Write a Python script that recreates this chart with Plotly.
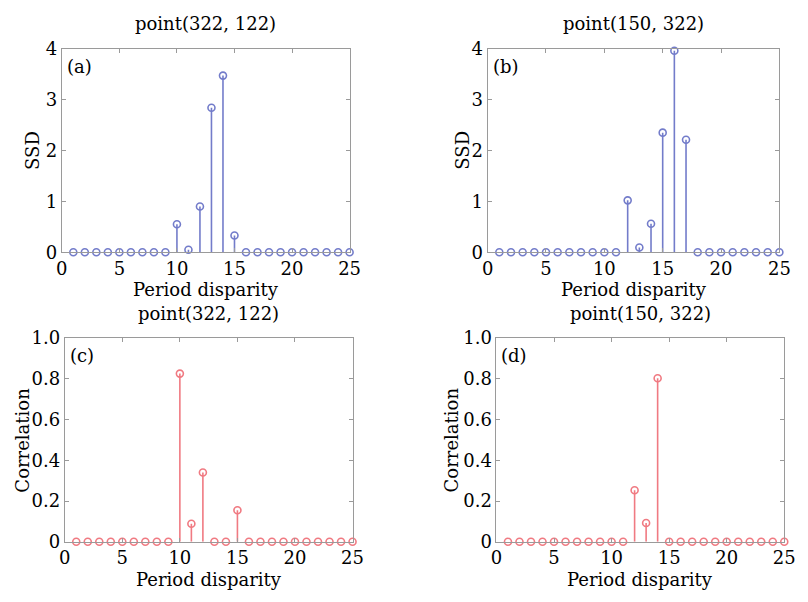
import plotly.graph_objects as go

W, H = 808, 602

# Period disparity values (shared x axis for all four panels)
disparity = list(range(1, 26))

# SSD curves
ssd_a = [0, 0, 0, 0, 0, 0, 0, 0, 0, 0.55, 0.05, 0.90, 2.84, 3.47, 0.33,
         0, 0, 0, 0, 0, 0, 0, 0, 0, 0]
ssd_b = [0, 0, 0, 0, 0, 0, 0, 0, 0, 0, 0, 1.02, 0.095, 0.56, 2.35, 3.96, 2.21,
         0, 0, 0, 0, 0, 0, 0, 0]

# Correlation curves
corr_c = [0, 0, 0, 0, 0, 0, 0, 0, 0, 0.826, 0.089, 0.34, 0, 0, 0.155,
          0, 0, 0, 0, 0, 0, 0, 0, 0, 0]
corr_d = [0, 0, 0, 0, 0, 0, 0, 0, 0, 0, 0, 0.253, 0.092, 0.803,
          0, 0, 0, 0, 0, 0, 0, 0, 0, 0, 0]

titles = ["point(322, 122)", "point(150, 322)", "point(322, 122)", "point(150, 322)"]
panel_tags = ["(a)", "(b)", "(c)", "(d)"]
y_titles = ["SSD", "SSD", "Correlation", "Correlation"]
x_title = "Period disparity"

BLUE = "#737cca"
RED = "#f07a82"
FRAME = "#9a9a9a"
FONT = "DejaVu Serif"
FS = 18      # titles and labels
TFS = 18     # tick labels
TXT = "#000"

# plot boxes in pixels: (left, right, top, bottom)
boxes = [(57, 351, 39, 250), (492, 790, 39, 250),
         (60, 354, 339, 550), (501, 795, 339, 550)]
series = [ssd_a, ssd_b, corr_c, corr_d]
colors = [BLUE, BLUE, RED, RED]
yranges = [[0, 4], [0, 4], [0, 1], [0, 1]]
ytickvals = [[0, 1, 2, 3, 4], [0, 1, 2, 3, 4],
             [0, 0.2, 0.4, 0.6, 0.8, 1.0], [0, 0.2, 0.4, 0.6, 0.8, 1.0]]
yticktext = [["0", "1", "2", "3", "4"], ["0", "1", "2", "3", "4"],
             ["0", "0.2", "0.4", "0.6", "0.8", "1.0"],
             ["0", "0.2", "0.4", "0.6", "0.8", "1.0"]]
ytitle_x = [27, 466, 17, 456]

fig = go.Figure()
annotations = []


def px_x(v):
    return v / W


def px_y(v):
    return 1 - v / H


for i in range(4):
    n = i + 1
    xa = "x" if n == 1 else f"x{n}"
    ya = "y" if n == 1 else f"y{n}"
    vals = series[i]

    # stems: vertical segments from 0 to each value
    sx, sy = [], []
    for xv, yv in zip(disparity, vals):
        sx += [xv, xv, None]
        sy += [0, yv, None]
    fig.add_trace(go.Scatter(x=sx, y=sy, mode="lines", xaxis=xa, yaxis=ya,
                             line=dict(color=colors[i], width=1.6),
                             showlegend=False, hoverinfo="skip",
                             cliponaxis=False))
    # open circle heads
    fig.add_trace(go.Scatter(x=disparity, y=vals, mode="markers", xaxis=xa, yaxis=ya,
                             marker=dict(symbol="circle-open", size=7,
                                         color=colors[i], line=dict(width=1.6)),
                             showlegend=False, cliponaxis=False))

    l, r, t, b = boxes[i]
    axis_common = dict(showline=True, linecolor=FRAME, linewidth=1, mirror="ticks",
                       ticks="inside", ticklen=4, tickcolor=FRAME, showgrid=False,
                       zeroline=False, tickfont=dict(family=FONT, size=TFS, color=TXT))
    fig.update_layout(**{
        ("xaxis" if n == 1 else f"xaxis{n}"): dict(
            domain=[px_x(l), px_x(r)], anchor=ya, range=[0, 25],
            tickvals=[0, 5, 10, 15, 20, 25], ticklabelstandoff=0, **axis_common),
        ("yaxis" if n == 1 else f"yaxis{n}"): dict(
            domain=[px_y(b), px_y(t)], anchor=xa, range=yranges[i],
            tickvals=ytickvals[i], ticktext=yticktext[i], ticklabelstandoff=0,
            **axis_common),
    })

    cx = (l + r) / 2
    # title above the box
    annotations.append(dict(text=titles[i], x=px_x(cx), y=px_y(t - 26),
                            xref="paper", yref="paper", showarrow=False,
                            xanchor="center", yanchor="middle",
                            font=dict(family=FONT, size=FS, color=TXT)))
    # x axis title
    annotations.append(dict(text=x_title, x=px_x(cx), y=px_y(b + 39),
                            xref="paper", yref="paper", showarrow=False,
                            xanchor="center", yanchor="middle",
                            font=dict(family=FONT, size=FS, color=TXT)))
    # y axis title
    annotations.append(dict(text=y_titles[i], x=px_x(ytitle_x[i]), y=px_y((t + b) / 2),
                            xref="paper", yref="paper", showarrow=False, textangle=-90,
                            xanchor="center", yanchor="middle",
                            font=dict(family=FONT, size=FS, color=TXT)))
    # panel tag
    annotations.append(dict(text=panel_tags[i], x=px_x(l + 3), y=px_y(t + 18),
                            xref="paper", yref="paper", showarrow=False,
                            xanchor="left", yanchor="middle",
                            font=dict(family=FONT, size=FS, color=TXT)))

fig.update_layout(width=W, height=H, margin=dict(l=0, r=0, t=0, b=0),
                  paper_bgcolor="white", plot_bgcolor="white",
                  annotations=annotations)

fig.write_html("out.html")
